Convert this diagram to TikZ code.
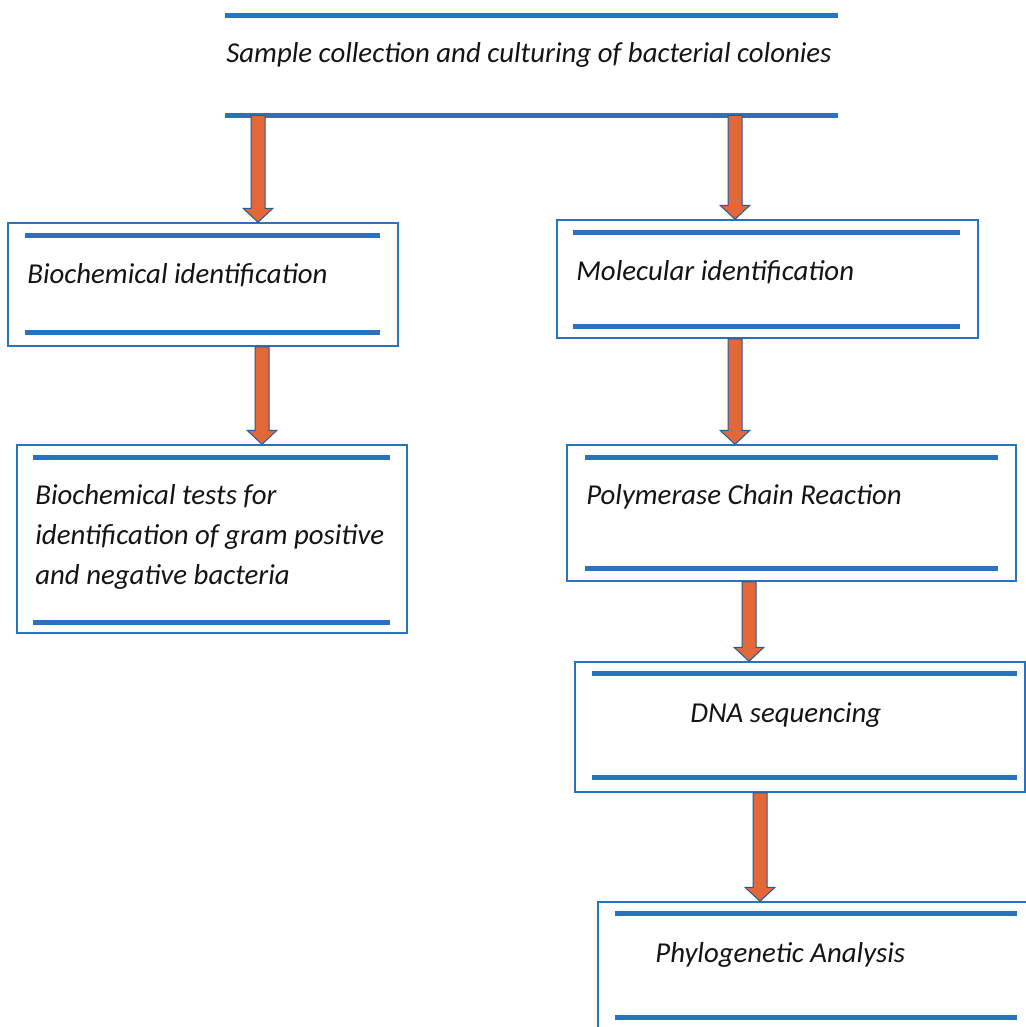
\documentclass[tikz,border=0pt]{standalone}
\usepackage{fontspec}
\setmainfont{Carlito}
\usetikzlibrary{calc}
\definecolor{barblue}{RGB}{40,114,192}
\definecolor{arroworange}{RGB}{226,104,58}
\tikzset{
  bar/.style={line width=1mm, draw=barblue, line cap=butt},
  framebox/.style={draw=barblue, line width=0.3mm, inner sep=0pt},
  plainbox/.style={inner sep=0pt},
  steptext/.style={font=\itshape\fontsize{16.4}{22.7}\selectfont, text=black!92, inner sep=0pt, anchor=west, align=left},
  arrowbody/.style={fill=arroworange, draw=barblue!80!black, line width=0.2mm, line join=miter},
}
\newcommand{\flowarrow}[2]{%
  \draw[arrowbody] ($(#1)+(-7,0)$) -- ($(#2)+(-7,-14)$) -- ($(#2)+(-15,-14)$) -- (#2)
    -- ($(#2)+(15,-14)$) -- ($(#2)+(7,-14)$) -- ($(#1)+(7,0)$) -- cycle;}

\begin{document}
\begin{tikzpicture}[x=0.2mm, y=-0.2mm]
\useasboundingbox (0,0) rectangle (1026,1027);
% boxes
\node[plainbox, minimum width=122.6mm, minimum height=20mm] (sample) at (531.5,65) {};
\node[framebox, minimum width=78mm, minimum height=24.6mm] (bio) at (203,284.5) {};
\node[framebox, minimum width=78mm, minimum height=37.6mm] (tests) at (212,539) {};
\node[framebox, minimum width=84.2mm, minimum height=23.6mm] (mol) at (767.5,279) {};
\node[framebox, minimum width=89.8mm, minimum height=27.2mm] (pcr) at (791.5,513) {};
\node[framebox, minimum width=90mm, minimum height=26mm] (dna) at (800,727) {};
\node[framebox, minimum width=88.4mm, minimum height=27.6mm] (phylo) at (819,971) {};
% bars
\draw[bar] (225,15) -- (838,15);
\draw[bar] (225,115) -- (838,115);
\draw[bar] (25,235) -- (380,235);
\draw[bar] (25,332) -- (380,332);
\draw[bar] (33,457) -- (390,457);
\draw[bar] (33,622) -- (390,622);
\draw[bar] (573,232) -- (960,232);
\draw[bar] (573,326) -- (960,326);
\draw[bar] (585,457) -- (998,457);
\draw[bar] (585,568) -- (998,568);
\draw[bar] (592,673) -- (1017,673);
\draw[bar] (592,777) -- (1017,777);
\draw[bar] (615,913) -- (1017,913);
\draw[bar] (615,1017) -- (1017,1017);
% texts
\node[steptext, anchor=center] (sampletext) at (529,55) {Sample collection and culturing of bacterial colonies};
\node[steptext] (biotext) at (27,275) {Biochemical identification};
\node[steptext] (teststext) at (35,537) {Biochemical tests for\\identification of gram positive\\and negative bacteria};
\node[steptext] (moltext) at (576,272) {Molecular identification};
\node[steptext] (pcrtext) at (586,497) {Polymerase Chain Reaction};
\node[steptext] (dnatext) at (690,715) {DNA sequencing};
\node[steptext] (phylotext) at (655,955) {Phylogenetic Analysis};
% arrows
\coordinate (colA) at (258,0);
\coordinate (colB) at (735,0);
\coordinate (colC) at (262,0);
\coordinate (colD) at (749,0);
\coordinate (colE) at (760,0);
\flowarrow{sample.south -| colA}{bio.north -| colA}
\flowarrow{sample.south -| colB}{mol.north -| colB}
\flowarrow{bio.south -| colC}{tests.north -| colC}
\flowarrow{mol.south -| colB}{pcr.north -| colB}
\flowarrow{pcr.south -| colD}{dna.north -| colD}
\flowarrow{dna.south -| colE}{phylo.north -| colE}
\end{tikzpicture}
\end{document}
